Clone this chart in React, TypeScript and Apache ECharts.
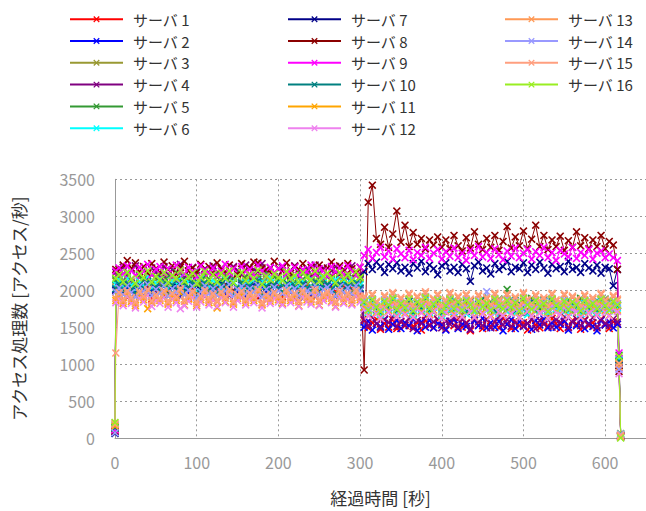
import React, { useEffect, useRef } from "react";
import * as echarts from "echarts";

const FONT = "'Noto Sans CJK JP', 'Noto Sans', sans-serif";

const TIMES = [
  0, 1,
  5, 10, 15, 20, 25, 30, 35, 40, 45, 50,
  55, 60, 65, 70, 75, 80, 85, 90, 95, 100,
  105, 110, 115, 120, 125, 130, 135, 140, 145, 150,
  155, 160, 165, 170, 175, 180, 185, 190, 195, 200,
  205, 210, 215, 220, 225, 230, 235, 240, 245, 250,
  255, 260, 265, 270, 275, 280, 285, 290, 295, 300,
  305, 310, 315, 320, 325, 330, 335, 340, 345, 350,
  355, 360, 365, 370, 375, 380, 385, 390, 395, 400,
  405, 410, 415, 420, 425, 430, 435, 440, 445, 450,
  455, 460, 465, 470, 475, 480, 485, 490, 495, 500,
  505, 510, 515, 520, 525, 530, 535, 540, 545, 550,
  555, 560, 565, 570, 575, 580, 585, 590, 595, 600,
  605, 610, 615,
  617, 619,
];

const NAMES = [
  "サーバ 1", "サーバ 2", "サーバ 3", "サーバ 4", "サーバ 5", "サーバ 6",
  "サーバ 7", "サーバ 8", "サーバ 9", "サーバ 10", "サーバ 11", "サーバ 12",
  "サーバ 13", "サーバ 14", "サーバ 15", "サーバ 16",
];

const COLORS = [
  "#ff0000", "#0000ff", "#999933", "#800080", "#339933", "#00ffff",
  "#000088", "#8b0000", "#ff00ff", "#008080", "#ffa500", "#ee82ee",
  "#ff9955", "#9999ff", "#ff9f7f", "#99ee22",
];

const S1 = [
  120, 1990,
  1930, 2060, 1900, 2010, 2080, 1920, 1990, 2050, 1880, 2000,
  2090, 1940, 1960, 2040, 1910, 2070, 1980, 1890, 2030, 1950,
  2060, 1920, 2010, 1870, 2050, 1960, 2080, 1930, 2000, 2040,
  1900, 2070, 1950, 2020, 1890, 2060, 1940, 2010, 1970, 2090,
  1910, 2030, 1990, 1880, 2050, 1950, 2080, 1920, 2010, 1960,
  2070, 1900, 2040, 1980, 1930, 2060, 1890, 2020, 1990, 1940,
  1590, 1490, 1560, 1610, 1470, 1550, 1500, 1600, 1480, 1570,
  1520, 1620, 1510, 1560, 1460, 1590, 1530, 1490, 1600, 1540,
  1470, 1580, 1520, 1610, 1500, 1560, 1450, 1590, 1530, 1480,
  1600, 1510, 1570, 1490, 1620, 1540, 1480, 1580, 1520, 1560,
  1460, 1600, 1530, 1490, 1580, 1510, 1620, 1550, 1480, 1570,
  1500, 1590, 1540, 1470, 1600, 1520, 1560, 1490, 1610, 1530,
  1480, 1570, 1540,
  1020, 30,
];

const S2 = [
  80, 2010,
  2060, 1950, 2030, 2090, 1970, 2040, 1920, 2080, 2000, 1940,
  2100, 1980, 1930, 2050, 2070, 1910, 2020, 1960, 2090, 2010,
  1940, 2080, 2030, 1900, 2000, 2060, 1950, 2040, 2100, 1970,
  2030, 1920, 2010, 2080, 1960, 2050, 1990, 1930, 2070, 2020,
  1950, 2090, 1970, 2040, 1910, 2060, 2000, 1940, 2080, 1980,
  2030, 1960, 2070, 1920, 2050, 2010, 1940, 2090, 1980, 2020,
  1500, 1580, 1460, 1550, 1510, 1600, 1470, 1540, 1590, 1480,
  1560, 1520, 1610, 1450, 1570, 1500, 1590, 1490, 1550, 1530,
  1460, 1580, 1600, 1480, 1540, 1510, 1470, 1590, 1520, 1620,
  1490, 1560, 1500, 1580, 1450, 1540, 1600, 1480, 1570, 1510,
  1550, 1470, 1590, 1530, 1610, 1490, 1560, 1500, 1540, 1580,
  1460, 1570, 1520, 1600, 1480, 1550, 1510, 1450, 1590, 1530,
  1570, 1490, 1540,
  950, 20,
];

const S3 = [
  150, 2120,
  2180, 2080, 2200, 2110, 2050, 2170, 2130, 2220, 2060, 2150,
  2100, 2190, 2040, 2160, 2120, 2230, 2070, 2140, 2190, 2060,
  2110, 2210, 2090, 2050, 2180, 2140, 2030, 2170, 2100, 2220,
  2080, 2160, 2130, 2040, 2200, 2090, 2150, 2070, 2230, 2120,
  2060, 2180, 2110, 2190, 2040, 2150, 2090, 2210, 2070, 2170,
  2130, 2050, 2200, 2100, 2160, 2080, 2220, 2140, 2060, 2180,
  1820, 1700, 1850, 1740, 1680, 1810, 1760, 1870, 1710, 1790,
  1730, 1860, 1690, 1800, 1720, 1880, 1750, 1700, 1840, 1760,
  1810, 1710, 1870, 1770, 1680, 1830, 1730, 1790, 1700, 1860,
  1780, 1720, 1840, 1690, 1760, 1870, 1730, 1810, 1700, 1850,
  1740, 1880, 1710, 1790, 1770, 1690, 1860, 1730, 1820, 1710,
  1850, 1700, 1780, 1870, 1690, 1800, 1750, 1840, 1720, 1770,
  1860, 1710, 1790,
  1080, 60,
];

const S4 = [
  100, 2240,
  2220, 2310, 2180, 2270, 2330, 2200, 2260, 2160, 2300, 2240,
  2190, 2320, 2210, 2280, 2230, 2350, 2170, 2260, 2310, 2200,
  2150, 2290, 2240, 2330, 2190, 2300, 2220, 2170, 2320, 2270,
  2210, 2340, 2160, 2280, 2250, 2360, 2190, 2300, 2230, 2180,
  2310, 2240, 2200, 2330, 2170, 2270, 2290, 2190, 2340, 2230,
  2300, 2180, 2260, 2320, 2210, 2280, 2160, 2330, 2240, 2220,
  1600, 1520, 1630, 1550, 1490, 1610, 1560, 1640, 1510, 1580,
  1530, 1620, 1480, 1590, 1550, 1650, 1520, 1570, 1610, 1490,
  1580, 1540, 1630, 1500, 1600, 1550, 1470, 1620, 1570, 1520,
  1610, 1490, 1580, 1640, 1530, 1600, 1510, 1560, 1630, 1520,
  1550, 1610, 1480, 1590, 1540, 1620, 1500, 1600, 1560, 1640,
  1490, 1570, 1610, 1520, 1590, 1540, 1630, 1500, 1600, 1550,
  1520, 1610, 1570,
  1000, 40,
];

const S5 = [
  130, 2140,
  2200, 2100, 2230, 2150, 2070, 2210, 2130, 2250, 2090, 2170,
  2220, 2110, 2190, 2060, 2240, 2140, 2090, 2200, 2120, 2260,
  2080, 2180, 2150, 2060, 2230, 2120, 2200, 2100, 2160, 2240,
  2110, 2190, 2070, 2220, 2150, 2130, 2250, 2090, 2180, 2140,
  2060, 2210, 2170, 2110, 2240, 2080, 2200, 2150, 2120, 2230,
  2100, 2180, 2140, 2070, 2220, 2130, 2190, 2090, 2240, 2160,
  1850, 1740, 1880, 1780, 1710, 1860, 1800, 1900, 1730, 1820,
  1770, 1870, 1720, 1840, 1790, 1910, 1740, 1820, 1870, 1710,
  1800, 1890, 1750, 1840, 1780, 1820, 1860, 1730, 1810, 1890,
  1760, 1840, 1730, 1880, 1800, 2010, 1770, 1860, 1740, 1830,
  1720, 1890, 1800, 1760, 1850, 1740, 1880, 1810, 1780, 1720,
  1870, 1800, 1750, 1890, 1830, 1770, 1720, 1860, 1800, 1880,
  1750, 1840, 1790,
  1120, 10,
];

const S6 = [
  170, 2080,
  2140, 2050, 2160, 2070, 2010, 2120, 2060, 2180, 2030, 2100,
  2150, 2060, 2020, 2130, 2080, 2170, 2040, 2110, 2070, 2000,
  2160, 2090, 2040, 2140, 2070, 2020, 2150, 2060, 2110, 2190,
  2030, 2100, 2080, 2150, 2010, 2120, 2060, 2170, 2040, 2100,
  2140, 2020, 2080, 2180, 2050, 2120, 2030, 2150, 2100, 2040,
  2170, 2070, 2010, 2140, 2060, 2110, 2040, 2160, 2090, 2070,
  1800, 1700, 1830, 1720, 1670, 1810, 1740, 1850, 1690, 1770,
  1720, 1820, 1670, 1800, 1730, 1860, 1700, 1770, 1820, 1660,
  1750, 1840, 1710, 1790, 1730, 1680, 1820, 1700, 1770, 1850,
  1720, 1800, 1690, 1830, 1750, 1710, 1840, 1690, 1790, 1750,
  1670, 1820, 1770, 1720, 1840, 1690, 1810, 1750, 1730, 1830,
  1700, 1790, 1750, 1680, 1820, 1730, 1790, 1700, 1840, 1750,
  1720, 1810, 1760,
  1060, 50,
];

const S7 = [
  60, 2000,
  2040, 1950, 2070, 1980, 1920, 2050, 2000, 2090, 1940, 2020,
  1970, 2060, 1930, 2040, 1990, 2080, 1950, 2010, 2060, 1910,
  2000, 2070, 1960, 2030, 1940, 2090, 1980, 2050, 1930, 2010,
  2060, 1950, 2030, 1980, 2080, 1920, 2020, 1970, 2050, 2000,
  1950, 2070, 1990, 2030, 1930, 2060, 2000, 1970, 2080, 1940,
  2020, 2050, 1980, 1920, 2060, 1970, 2040, 1950, 2070, 2000,
  2250, 2360, 2280, 2380, 2320, 2240, 2350, 2290, 2370, 2260,
  2310, 2230, 2360, 2300, 2390, 2250, 2340, 2290, 2210, 2330,
  2370, 2260, 2310, 2240, 2350, 2290, 2120, 2330, 2380, 2260,
  2300, 2220, 2360, 2280, 2320, 2390, 2250, 2310, 2290, 2370,
  2240, 2340, 2280, 2380, 2300, 2230, 2350, 2290, 2320, 2250,
  2390, 2280, 2310, 2240, 2360, 2300, 2260, 2340, 2230, 2310,
  2290, 2060, 2280,
  980, 30,
];

const S8 = [
  90, 2280,
  2280, 2340, 2400, 2300, 2370, 2250, 2320, 2230, 2360, 2290,
  2240, 2380, 2280, 2330, 2220, 2310, 2390, 2260, 2300, 2240,
  2350, 2270, 2320, 2230, 2370, 2290, 2250, 2340, 2300, 2220,
  2360, 2270, 2310, 2380, 2370, 2300, 2280, 2240, 2390, 2290,
  2260, 2370, 2230, 2320, 2280, 2360, 2250, 2310, 2230, 2340,
  2270, 2300, 2380, 2240, 2330, 2260, 2360, 2290, 2230, 2310,
  920, 3190, 3420, 2700, 2620, 2850, 2580, 2760, 3070, 2650,
  2880, 2590, 2780, 2620, 2700, 2560, 2680, 2610, 2720, 2580,
  2680, 2560, 2740, 2600, 2530, 2710, 2570, 2790, 2620, 2550,
  2700, 2580, 2740, 2540, 2660, 2860, 2570, 2720, 2600, 2800,
  2560, 2690, 2880, 2590, 2740, 2550, 2680, 2590, 2730, 2540,
  2670, 2580, 2790, 2600, 2710, 2560, 2680, 2590, 2740, 2560,
  2660, 2610, 2280,
  900, 20,
];

const S9 = [
  110, 2260,
  2300, 2220, 2330, 2260, 2200, 2310, 2250, 2350, 2210, 2280,
  2320, 2230, 2290, 2190, 2340, 2260, 2220, 2310, 2250, 2180,
  2330, 2270, 2230, 2300, 2200, 2260, 2350, 2230, 2290, 2190,
  2320, 2250, 2280, 2210, 2340, 2260, 2190, 2310, 2240, 2290,
  2330, 2220, 2260, 2310, 2200, 2280, 2250, 2340, 2220, 2290,
  2260, 2190, 2320, 2250, 2300, 2210, 2330, 2260, 2200, 2310,
  2470, 2550, 2430, 2510, 2580, 2450, 2530, 2420, 2560, 2490,
  2440, 2540, 2410, 2510, 2470, 2580, 2430, 2500, 2550, 2420,
  2520, 2460, 2570, 2440, 2500, 2400, 2540, 2470, 2590, 2450,
  2510, 2430, 2560, 2480, 2410, 2530, 2460, 2570, 2440, 2500,
  2550, 2420, 2520, 2470, 2580, 2440, 2510, 2400, 2540, 2490,
  2450, 2580, 2430, 2510, 2470, 2550, 2420, 2500, 2530, 2440,
  2490, 2440, 2400,
  1150, 20,
];

const S10 = [
  140, 2020,
  2080, 1990, 2100, 2010, 1960, 2070, 2030, 2120, 1970, 2050,
  2000, 2090, 1950, 2070, 2020, 2110, 1980, 2040, 2090, 1940,
  2030, 2100, 1990, 2060, 1960, 2080, 2010, 2110, 1950, 2040,
  2090, 1980, 2060, 2010, 2120, 1950, 2050, 2000, 2080, 2030,
  1980, 2100, 2010, 2060, 1950, 2090, 2030, 1990, 2110, 1970,
  2050, 2080, 2010, 1950, 2090, 2000, 2060, 1980, 2100, 2030,
  1830, 1730, 1860, 1750, 1700, 1840, 1770, 1880, 1720, 1800,
  1750, 1850, 1700, 1820, 1760, 1890, 1730, 1800, 1850, 1690,
  1780, 1870, 1740, 1820, 1760, 1710, 1850, 1730, 1800, 1880,
  1750, 1830, 1720, 1860, 1780, 1740, 1870, 1720, 1820, 1780,
  1700, 1850, 1800, 1750, 1870, 1720, 1840, 1780, 1760, 1860,
  1730, 1820, 1780, 1710, 1850, 1760, 1820, 1730, 1870, 1780,
  1750, 1840, 1790,
  1040, 40,
];

const S11 = [
  160, 1860,
  1910, 1820, 1940, 1850, 1790, 1920, 1870, 1750, 1830, 1900,
  1860, 1950, 1810, 1910, 1860, 1960, 1800, 1880, 1930, 1790,
  1870, 1950, 1830, 1900, 1760, 1920, 1850, 1960, 1810, 1890,
  1940, 1830, 1900, 1860, 1970, 1800, 1890, 1850, 1930, 1870,
  1820, 1950, 1860, 1910, 1790, 1940, 1870, 1840, 1960, 1800,
  1890, 1930, 1850, 1780, 1940, 1840, 1910, 1820, 1950, 1870,
  1770, 1660, 1800, 1700, 1630, 1780, 1720, 1830, 1650, 1760,
  1690, 1810, 1640, 1770, 1710, 1840, 1670, 1730, 1800, 1630,
  1710, 1820, 1680, 1760, 1650, 1800, 1720, 1640, 1790, 1700,
  1750, 1660, 1810, 1710, 1670, 1800, 1690, 1770, 1640, 1830,
  1720, 1660, 1790, 1700, 1760, 1630, 1820, 1710, 1680, 1800,
  1650, 1770, 1720, 1640, 1790, 1700, 1760, 1670, 1820, 1720,
  1660, 1780, 1730,
  1000, 30,
];

const S12 = [
  200, 1830,
  1880, 1790, 1910, 1820, 1760, 1890, 1840, 1930, 1780, 1860,
  1820, 1900, 1770, 1880, 1830, 1750, 1790, 1850, 1900, 1770,
  1840, 1920, 1800, 1870, 1780, 1900, 1830, 1940, 1770, 1860,
  1900, 1800, 1880, 1830, 1930, 1760, 1860, 1820, 1890, 1840,
  1800, 1920, 1830, 1870, 1780, 1910, 1840, 1810, 1930, 1790,
  1860, 1900, 1830, 1770, 1910, 1820, 1880, 1800, 1920, 1840,
  1740, 1650, 1770, 1680, 1620, 1760, 1700, 1800, 1640, 1730,
  1670, 1780, 1630, 1750, 1690, 1810, 1650, 1710, 1770, 1620,
  1700, 1790, 1660, 1740, 1640, 1770, 1710, 1630, 1760, 1680,
  1730, 1640, 1780, 1700, 1660, 1770, 1680, 1740, 1630, 1800,
  1710, 1650, 1760, 1690, 1730, 1620, 1790, 1700, 1670, 1760,
  1640, 1740, 1710, 1630, 1770, 1690, 1730, 1660, 1790, 1700,
  1650, 1750, 1710,
  870, 10,
];

const S13 = [
  180, 1890,
  1950, 1850, 1970, 1880, 1820, 1960, 1900, 1990, 1840, 1920,
  1880, 1970, 1830, 1940, 1890, 2000, 1850, 1910, 1960, 1820,
  1900, 1980, 1860, 1930, 1840, 1960, 1890, 1990, 1830, 1920,
  1970, 1860, 1940, 1890, 1990, 1810, 1920, 1880, 1950, 1900,
  1860, 1980, 1890, 1940, 1840, 1970, 1900, 1870, 1990, 1850,
  1920, 1960, 1890, 1830, 1970, 1880, 1940, 1860, 1980, 1900,
  1900, 1790, 1930, 1830, 1770, 1910, 1860, 1950, 1790, 1880,
  1820, 1940, 1780, 1900, 1850, 1960, 1800, 1870, 1930, 1770,
  1850, 1950, 1810, 1900, 1790, 1930, 1860, 1780, 1920, 1830,
  1880, 1790, 1940, 1850, 1810, 1930, 1830, 1890, 1780, 1950,
  1860, 1800, 1920, 1840, 1880, 1770, 1940, 1850, 1820, 1930,
  1800, 1900, 1860, 1780, 1920, 1840, 1880, 1810, 1940, 1850,
  1790, 1910, 1860,
  960, 20,
];

const S14 = [
  70, 1980,
  2030, 1940, 2060, 1970, 1910, 2050, 1990, 2080, 1930, 2010,
  1960, 2060, 1920, 2020, 1980, 2090, 1940, 2000, 2050, 1900,
  1980, 2060, 1950, 2020, 1930, 2040, 1990, 2080, 1920, 2010,
  2050, 1950, 2020, 1980, 2070, 1910, 2010, 1960, 2040, 1990,
  1950, 2060, 1980, 2020, 1930, 2050, 1990, 1960, 2070, 1940,
  2010, 2040, 1980, 1920, 2050, 1970, 2030, 1950, 2060, 1990,
  1860, 1750, 1880, 1790, 1730, 1870, 1810, 1900, 1750, 1840,
  1780, 1880, 1740, 1850, 1800, 1910, 1760, 1830, 1880, 1730,
  1810, 1890, 1770, 1850, 1760, 1880, 1820, 1740, 1870, 1790,
  1980, 1750, 1890, 1810, 1770, 1880, 1790, 1850, 1740, 1900,
  1830, 1760, 1870, 1800, 1840, 1730, 1890, 1810, 1780, 1870,
  1760, 1850, 1820, 1740, 1870, 1790, 1840, 1770, 1890, 1810,
  1750, 1860, 1820,
  930, 50,
];

const S15 = [
  190, 1150,
  1970, 1870, 1990, 1900, 1840, 1980, 1920, 2010, 1860, 1940,
  1890, 1990, 1850, 1960, 1910, 2020, 1870, 1930, 1980, 1840,
  1920, 2000, 1880, 1950, 1860, 1980, 1910, 2010, 1850, 1940,
  1990, 1880, 1960, 1910, 2010, 1830, 1940, 1900, 1970, 1920,
  1880, 2000, 1910, 1960, 1860, 1990, 1920, 1890, 2010, 1870,
  1940, 1980, 1910, 1850, 1990, 1900, 1960, 1880, 2000, 1920,
  1920, 1810, 1950, 1850, 1790, 1930, 1880, 1970, 1810, 1900,
  1840, 1960, 1800, 1920, 1870, 1980, 1820, 1890, 1950, 1790,
  1870, 1970, 1830, 1920, 1810, 1950, 1880, 1800, 1940, 1850,
  1900, 1810, 1960, 1870, 1830, 1950, 1850, 1910, 1800, 1970,
  1880, 1820, 1940, 1860, 1900, 1790, 1960, 1870, 1840, 1950,
  1820, 1920, 1880, 1800, 1940, 1860, 1900, 1830, 1960, 1870,
  1810, 1930, 1880,
  1010, 40,
];

const S16 = [
  210, 2160,
  2210, 2110, 2240, 2150, 2090, 2220, 2170, 2260, 2110, 2190,
  2140, 2240, 2100, 2200, 2160, 2270, 2120, 2180, 2230, 2090,
  2170, 2250, 2130, 2210, 2110, 2230, 2160, 2260, 2100, 2190,
  2240, 2130, 2210, 2160, 2270, 2080, 2190, 2140, 2220, 2170,
  2130, 2250, 2160, 2200, 2110, 2240, 2170, 2140, 2260, 2120,
  2190, 2230, 2160, 2100, 2240, 2150, 2210, 2130, 2250, 2170,
  1840, 1730, 1870, 1770, 1710, 1850, 1800, 1890, 1740, 1820,
  1760, 1880, 1720, 1840, 1790, 1900, 1750, 1810, 1870, 1710,
  1790, 1880, 1750, 1840, 1730, 1860, 1800, 1720, 1850, 1770,
  1820, 1730, 1880, 1790, 1750, 1860, 1770, 1830, 1720, 1890,
  1800, 1740, 1860, 1780, 1820, 1710, 1880, 1790, 1760, 1850,
  1740, 1840, 1800, 1720, 1860, 1780, 1820, 1750, 1880, 1790,
  1730, 1850, 1800,
  1100, 0,
];

const SERIES_VALUES = [S1, S2, S3, S4, S5, S6, S7, S8, S9, S10, S11, S12, S13, S14, S15, S16];

const X_SYMBOL =
  "path://M0,1.4L1.4,0L5,3.6L8.6,0L10,1.4L6.4,5L10,8.6L8.6,10L5,6.4L1.4,10L0,8.6L3.6,5Z";

const LEGEND_LEFTS = [69, 287, 504];

export default function App() {
  const ref = useRef<HTMLDivElement>(null);

  useEffect(() => {
    if (!ref.current) return;
    const chart = echarts.init(ref.current, undefined, { renderer: "svg" });

    const series = SERIES_VALUES.map((vals, i) => ({
      type: "line",
      name: NAMES[i],
      data: TIMES.map((t, k) => [t, vals[k]]),
      symbol: X_SYMBOL,
      symbolSize: 8,
      showSymbol: true,
      lineStyle: { width: 1, color: COLORS[i] },
      itemStyle: { color: COLORS[i] },
      emphasis: { disabled: true },
      silent: true,
      clip: true,
    }));

    const legends = [0, 1, 2].map((c) => ({
      data: NAMES.slice(c * 6, c * 6 + 6),
      left: LEGEND_LEFTS[c],
      top: 10.3,
      orient: "vertical",
      itemWidth: 53,
      itemHeight: 8,
      itemGap: 4,
      padding: 0,
      selectedMode: false,
      textStyle: {
        fontFamily: FONT,
        fontSize: 15,
        color: "#333",
        lineHeight: 17.8,
        padding: [0, 0, 0, 5],
      },
    }));

    chart.setOption({
      animation: false,
      backgroundColor: "#ffffff",
      legend: legends,
      grid: { left: 115, top: 179.3, width: 534, height: 267.4, containLabel: false },
      xAxis: {
        type: "value",
        min: 0,
        max: 650,
        interval: 100,
        name: "経過時間 [秒]",
        nameLocation: "middle",
        nameGap: 51,
        nameTextStyle: { fontFamily: FONT, fontSize: 17, color: "#333" },
        axisLine: { show: true, onZero: false, lineStyle: { color: "#999", width: 1 } },
        axisTick: { show: false },
        axisLabel: {
          fontFamily: FONT,
          fontSize: 16,
          color: "#999",
          margin: 16,
          showMaxLabel: false,
          formatter: (v: number) => (v % 100 === 0 ? String(v) : ""),
        },
        splitLine: { show: true, lineStyle: { type: [2, 3], color: "#999", width: 1 } },
      },
      yAxis: {
        type: "value",
        min: 0,
        max: 3500,
        interval: 500,
        name: "アクセス処理数 [アクセス/秒]",
        nameLocation: "middle",
        nameGap: 88,
        nameRotate: 90,
        nameTextStyle: { fontFamily: FONT, fontSize: 17, color: "#333" },
        axisLine: { show: true, lineStyle: { color: "#999", width: 1 } },
        axisTick: { show: false },
        axisLabel: {
          fontFamily: FONT,
          fontSize: 16,
          color: "#999",
          margin: 20,
          formatter: (v: number) => String(v),
        },
        splitLine: { show: true, lineStyle: { type: [2, 3], color: "#999", width: 1 } },
      },
      series,
    });

    return () => chart.dispose();
  }, []);

  return (
    <div
      ref={ref}
      style={{ position: "fixed", left: 0, top: 0, width: 646, height: 511, background: "#fff" }}
    />
  );
}
